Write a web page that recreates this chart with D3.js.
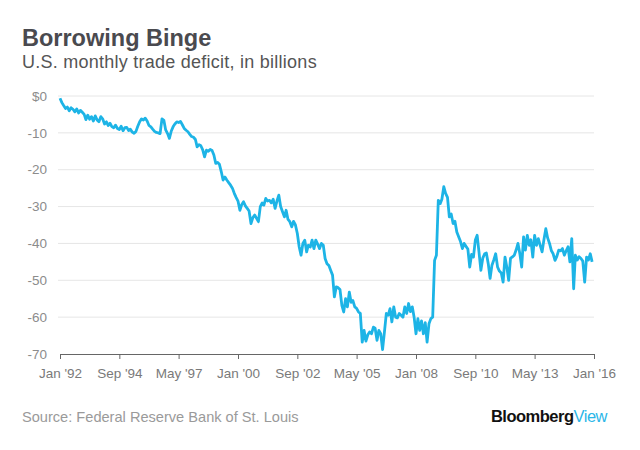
<!DOCTYPE html>
<html><head><meta charset="utf-8">
<script src="https://cdn.jsdelivr.net/npm/d3@7"></script>
<style>
html,body{margin:0;padding:0;background:#fff;}
svg{display:block;font-family:"Liberation Sans",Arial,sans-serif;}
</style></head>
<body><svg id="c" width="640" height="450"></svg>
<script>
// Monthly U.S. trade balance (billions $), Jan 1992 – Dec 2015
const startYear = 1992;
const y1992 = [-0.6,-1.8,-2.6,-3.4,-3.0,-4.0,-3.2,-3.6,-4.3,-3.5,-4.6,-3.9];
const y1993 = [-4.4,-5.0,-6.4,-5.2,-6.3,-5.6,-6.8,-5.4,-6.5,-7.0,-5.6,-6.2];
const y1994 = [-7.6,-7.0,-8.0,-7.4,-8.3,-8.6,-7.9,-8.8,-9.1,-8.2,-9.4,-8.6];
const y1995 = [-8.5,-9.4,-9.0,-9.8,-10.1,-9.6,-8.2,-7.0,-6.2,-6.5,-6.0,-6.8];
const y1996 = [-8.0,-8.4,-9.0,-9.6,-9.9,-10.0,-10.2,-6.2,-6.6,-9.2,-10.2,-11.5];
const y1997 = [-9.5,-8.3,-7.6,-7.0,-7.2,-6.9,-7.8,-8.8,-9.3,-9.7,-10.4,-11.0];
const y1998 = [-11.2,-11.8,-13.8,-13.2,-13.5,-14.6,-16.5,-14.7,-15.0,-14.5,-14.8,-16.0];
const y1999 = [-18.3,-18.0,-18.5,-20.5,-22.8,-22.0,-22.8,-23.5,-24.2,-25.0,-26.4,-27.5];
const y2000 = [-28.5,-31.0,-29.5,-28.7,-29.8,-30.5,-31.2,-34.6,-33.0,-32.3,-33.2,-34.1];
const y2001 = [-30.0,-29.0,-29.6,-27.8,-28.5,-28.3,-29.0,-28.0,-30.5,-28.5,-26.9,-30.0];
const y2002 = [-31.4,-32.8,-31.0,-33.5,-34.1,-35.5,-34.0,-35.0,-37.3,-40.9,-43.2,-40.0];
const y2003 = [-39.1,-42.3,-40.5,-41.0,-39.1,-41.4,-39.1,-40.2,-41.4,-40.0,-40.5,-44.1];
const y2004 = [-45.5,-46.0,-47.3,-48.6,-54.5,-51.8,-52.0,-52.5,-56.8,-58.6,-55.0,-57.2];
const y2005 = [-53.2,-56.0,-55.5,-57.2,-57.6,-58.6,-59.0,-66.8,-63.6,-66.5,-64.8,-64.0];
const y2006 = [-64.5,-62.7,-63.0,-66.3,-63.6,-64.5,-68.8,-64.0,-59.0,-59.5,-57.7,-61.3];
const y2007 = [-57.2,-60.0,-60.2,-59.0,-59.5,-60.0,-57.2,-59.0,-56.3,-58.5,-57.2,-60.0];
const y2008 = [-64.5,-60.4,-63.6,-61.0,-64.5,-61.5,-66.8,-61.8,-60.4,-60.0,-44.6,-43.2];
const y2009 = [-28.3,-29.2,-28.0,-24.6,-26.4,-27.5,-32.8,-32.0,-34.6,-34.0,-36.9,-38.2];
const y2010 = [-39.5,-41.4,-40.0,-40.8,-41.5,-46.4,-43.0,-43.7,-39.1,-37.8,-42.5,-47.3];
const y2011 = [-44.0,-42.8,-42.6,-45.5,-49.5,-45.9,-44.5,-42.8,-46.4,-47.5,-48.0,-50.5];
const y2012 = [-43.7,-46.5,-50.0,-44.0,-43.7,-43.2,-41.8,-40.0,-42.8,-46.4,-38.2,-41.8];
const y2013 = [-37.8,-40.5,-39.0,-43.7,-37.8,-40.5,-38.7,-40.5,-42.3,-39.0,-36.0,-38.5];
const y2014 = [-40.0,-42.0,-42.8,-44.6,-43.5,-41.8,-42.0,-41.4,-43.2,-42.0,-40.9,-45.0];
const y2015 = [-38.7,-52.3,-43.2,-44.5,-43.6,-44.1,-44.8,-50.5,-43.7,-44.5,-42.8,-45.0];

const yTicks = [0,-10,-20,-30,-40,-50,-60,-70];
const yTickLabels = ["$0","-10","-20","-30","-40","-50","-60","-70"];
const xTickDates = ["1992-01","1994-09","1997-05","2000-01","2002-09","2005-05","2008-01","2010-09","2013-05","2016-01"];
const xTickLabels = ["Jan '92","Sep '94","May '97","Jan '00","Sep '02","May '05","Jan '08","Sep '10","May '13","Jan '16"];

const title = "Borrowing Binge";
const subtitle = "U.S. monthly trade deficit, in billions";
const source = "Source: Federal Reserve Bank of St. Louis";

const allYears = [y1992,y1993,y1994,y1995,y1996,y1997,y1998,y1999,y2000,y2001,y2002,y2003,
  y2004,y2005,y2006,y2007,y2008,y2009,y2010,y2011,y2012,y2013,y2014,y2015];
const data = [];
allYears.forEach((arr,yi)=>arr.forEach((v,mi)=>data.push({date:new Date(startYear+yi,mi,1),value:v})));

const svg = d3.select("#c");
const plotL = 60, plotR = 594, plotT = 96, plotB = 354;
const parse = d3.timeParse("%Y-%m");
const x = d3.scaleTime().domain([new Date(1992,0,1), new Date(2016,0,1)]).range([plotL,plotR]);
const y = d3.scaleLinear().domain([0,-70]).range([plotT,plotB]);

// gridlines
svg.append("g").selectAll("line").data(yTicks.filter(d=>d!==-70)).join("line")
  .attr("x1",plotL-2).attr("x2",plotR).attr("y1",d=>y(d)).attr("y2",d=>y(d))
  .attr("stroke","#e6e6e6").attr("stroke-width",1);

// y labels
svg.append("g").selectAll("text").data(yTicks).join("text")
  .attr("x",47).attr("y",d=>y(d)).attr("dy","0.35em").attr("text-anchor","end")
  .attr("font-size",13.5).attr("fill","#8c8c8c").text((d,i)=>yTickLabels[i]);

// x axis
const xAxis = d3.axisBottom(x).tickValues(xTickDates.map(parse)).tickSize(5)
  .tickFormat((d,i)=>xTickLabels[i]);
const gx = svg.append("g").attr("transform",`translate(0,${plotB})`).call(xAxis);
gx.select(".domain").attr("stroke","#666").attr("d",`M${plotL},0.5H${plotR}`);
gx.selectAll(".tick line").attr("stroke","#666");
gx.selectAll(".tick text").attr("font-size",13.5).attr("fill","#7a7a7a").attr("dy","1.2em")
  .attr("font-family","'Liberation Sans',Arial,sans-serif");

// line
const line = d3.line().x(d=>x(d.date)).y(d=>y(d.value)).curve(d3.curveLinear);
svg.append("path").datum(data).attr("d",line).attr("fill","none")
  .attr("stroke","#1db4e6").attr("stroke-width",2.8).attr("stroke-linejoin","round");

// titles
svg.append("text").attr("x",22).attr("y",46).attr("font-size",23.5).attr("font-weight","bold")
  .attr("fill","#4a4a4f").text(title);
svg.append("text").attr("x",22).attr("y",68).attr("font-size",18).attr("letter-spacing","0.25")
  .attr("fill","#555").text(subtitle);

// footer
svg.append("text").attr("x",22).attr("y",422).attr("font-size",14.6)
  .attr("fill","#9a9a9a").text(source);
const brand = svg.append("text").attr("x",607).attr("y",422).attr("text-anchor","end")
  .attr("font-size",16.5).attr("letter-spacing","-0.5");
brand.append("tspan").attr("font-weight","bold").attr("fill","#111").text("Bloomberg");
brand.append("tspan").attr("fill","#2bb6e8").text("View");
</script></body></html>
